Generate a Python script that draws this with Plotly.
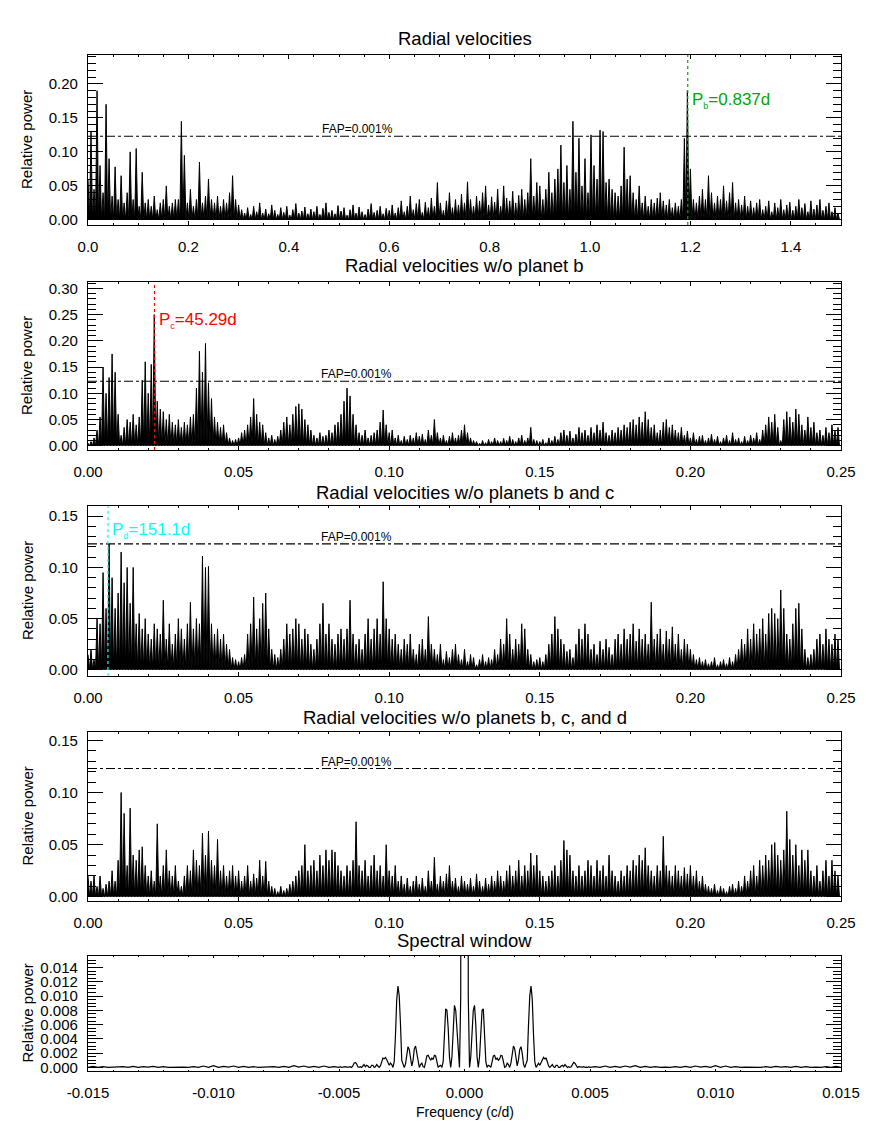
import numpy as np
import plotly.graph_objects as go

# periodogram peak heights, in units of 0.001 relative power, on a uniform frequency grid
rv_all = [60, 130, 45, 190, 80, 40, 170, 90, 35, 78,
          30, 65, 25, 40, 100, 30, 105, 20, 70, 25,
          30, 20, 35, 15, 25, 30, 50, 20, 25, 30,
          30, 145, 95, 25, 45, 20, 30, 85, 25, 35,
          60, 30, 25, 35, 20, 30, 25, 40, 65, 30,
          22, 15, 10, 18, 8, 20, 12, 25, 10, 16, 9, 22, 14, 8, 18, 11, 20, 7, 15, 24, 10, 13, 19, 9, 16,
          12, 20, 8, 17, 25, 11, 14, 9, 21, 13, 18, 7, 15, 22, 10, 19, 12, 8, 16, 24, 11, 14, 20, 9, 17,
          14, 22, 10, 18, 28, 12, 20, 35, 15, 24, 30, 11, 26, 18, 32, 20, 55, 25, 14, 28, 40, 18, 30, 22, 38,
          25, 56, 30, 20, 35, 28, 40, 50, 22, 34, 26, 45, 20, 50, 32, 28, 42, 25, 36, 45, 30, 40, 90, 35, 55,
          50, 30, 45, 70, 40, 60, 75, 110, 55, 80, 45, 145, 70, 120, 50, 90, 40, 125, 80, 60, 132, 130, 55, 60, 45,
          40, 35, 50, 107, 60, 65, 40, 30, 50, 25, 35, 20, 30, 25, 32, 40, 28, 22, 30, 18, 25, 20, 30, 120, 190,
          75, 30, 25, 35, 45, 30, 65, 40, 25, 35, 30, 50, 28, 40, 55, 25, 30, 22, 35, 20, 28, 18, 25, 30, 15,
          20, 28, 12, 25, 18, 30, 15, 22, 26, 14, 20, 30, 18, 24, 12, 28, 16, 22, 30, 14, 20, 25, 12, 18, 10]

rv_nob = [5, 8, 15, 30, 55, 150, 100, 130, 175, 140, 60, 20, 35, 50, 45, 60, 40, 55, 125, 160, 100, 155, 250, 85, 70,
          65, 50, 60, 45, 40, 50, 35, 45, 40, 55, 60, 110, 180, 140, 195, 120, 90, 55, 45, 35, 40, 25, 15, 10, 12,
          15, 25, 30, 40, 55, 90, 60, 45, 40, 25, 15, 20, 12, 18, 30, 45, 55, 40, 60, 75, 80, 70, 50, 40, 30,
          20, 15, 25, 18, 20, 30, 25, 40, 45, 60, 85, 110, 95, 60, 40, 25, 20, 30, 15, 20, 25, 30, 45, 68, 40,
          25, 30, 15, 20, 10, 18, 12, 20, 15, 25, 18, 22, 12, 30, 20, 50, 25, 15, 20, 10, 18, 25, 15, 20, 30,
          40, 25, 15, 10, 8, 5, 10, 6, 12, 8, 15, 10, 8, 14, 10, 18, 12, 8, 15, 20, 10, 15, 35, 12, 10,
          8, 12, 6, 15, 10, 18, 12, 25, 30, 20, 28, 15, 22, 35, 25, 30, 20, 35, 25, 40, 30, 45, 25, 20, 30,
          25, 35, 30, 40, 35, 45, 50, 40, 55, 45, 65, 50, 35, 40, 25, 30, 45, 50, 35, 40, 30, 25, 35, 20, 28,
          15, 25, 12, 18, 20, 10, 15, 22, 12, 18, 8, 15, 20, 10, 25, 12, 15, 8, 18, 10, 20, 15, 25, 12, 30,
          40, 55, 45, 60, 35, 10, 50, 65, 55, 45, 70, 60, 40, 30, 55, 35, 45, 25, 30, 20, 35, 25, 40, 30, 35]

rv_nobc = [15, 20, 10, 50, 45, 95, 60, 123, 90, 60, 75, 115, 85, 100, 65, 100, 45, 55, 40, 50, 35, 30, 45, 40, 35,
           68, 30, 45, 25, 35, 50, 40, 30, 45, 66, 40, 50, 45, 111, 100, 101, 45, 35, 40, 30, 35, 25, 20, 12, 10,
           8, 12, 15, 35, 45, 71, 40, 50, 65, 75, 40, 20, 15, 12, 20, 30, 45, 35, 40, 50, 45, 30, 40, 35, 25,
           20, 30, 45, 65, 35, 45, 30, 25, 35, 40, 30, 40, 68, 35, 25, 30, 20, 35, 50, 30, 40, 50, 35, 86, 50,
           40, 30, 35, 25, 20, 30, 25, 35, 20, 15, 25, 30, 20, 52, 25, 20, 15, 25, 10, 18, 12, 20, 25, 15, 10,
           20, 8, 15, 12, 5, 10, 15, 8, 12, 10, 20, 15, 30, 25, 50, 35, 20, 30, 25, 45, 40, 20, 15, 8, 10,
           12, 8, 15, 25, 35, 52, 40, 30, 25, 18, 20, 12, 25, 40, 30, 45, 35, 20, 25, 15, 28, 20, 30, 22, 15,
           30, 35, 25, 40, 30, 35, 45, 28, 40, 30, 35, 25, 66, 30, 35, 40, 25, 38, 30, 42, 25, 35, 20, 30, 25,
           20, 15, 10, 12, 8, 10, 6, 8, 12, 5, 8, 10, 6, 12, 8, 15, 20, 30, 25, 40, 30, 45, 35, 40, 50,
           35, 55, 60, 55, 50, 78, 60, 35, 30, 45, 60, 65, 40, 20, 12, 15, 20, 30, 35, 25, 40, 30, 25, 35, 30]

rv_nobcd = [20, 15, 20, 10, 20, 8, 12, 15, 25, 15, 35, 100, 80, 30, 85, 40, 35, 45, 48, 30, 20, 25, 15, 70, 20,
            30, 45, 25, 20, 30, 15, 10, 20, 30, 25, 45, 35, 30, 61, 40, 63, 35, 30, 55, 25, 30, 20, 25, 30, 20,
            25, 15, 20, 30, 15, 22, 18, 35, 20, 34, 15, 10, 8, 5, 10, 6, 8, 12, 15, 20, 25, 30, 50, 25, 30,
            35, 25, 40, 30, 45, 35, 45, 43, 30, 25, 20, 30, 25, 35, 72, 30, 25, 35, 20, 30, 40, 25, 30, 20, 50,
            25, 20, 30, 15, 20, 12, 18, 10, 15, 20, 12, 18, 10, 25, 15, 38, 12, 20, 15, 22, 30, 15, 18, 10, 20,
            15, 12, 18, 10, 22, 15, 10, 18, 12, 20, 15, 25, 20, 15, 25, 30, 20, 25, 35, 20, 30, 25, 42, 30, 40,
            25, 20, 15, 20, 25, 30, 20, 35, 54, 45, 40, 25, 20, 30, 20, 25, 35, 30, 20, 35, 25, 30, 20, 40, 25,
            20, 15, 25, 20, 30, 25, 35, 30, 40, 35, 47, 30, 25, 20, 30, 25, 58, 30, 25, 20, 30, 25, 20, 28, 22,
            30, 20, 25, 15, 20, 12, 10, 8, 12, 6, 10, 8, 5, 10, 12, 8, 15, 10, 20, 15, 25, 30, 20, 35, 30,
            40, 35, 50, 52, 40, 35, 45, 82, 55, 40, 50, 30, 45, 35, 45, 25, 20, 30, 15, 25, 35, 20, 35, 25, 20]

# spectral window, positive-frequency half (symmetric), units of 1e-5
win_inner = [100000, 80000, 45000, 1000, 0, 150, 500, 800, 870, 600,
             150, 0, 150, 550, 800, 820, 450, 80, 0, 30,
             20, 0, 80, 160, 170, 110, 130, 100, 120, 170,
             160, 70, 0, 10, 60, 40, 0, 60, 200, 300,
             260, 100, 20, 110, 250, 290, 200, 50, 0, 50,
             100, 600, 1000, 1140, 950, 450, 80, 0, 40, 60,
             30, 70, 110, 140, 120, 130, 80, 20, 0, 20,
             40, 10, 0, 30, 30, 0, 0, 20, 30, 10,
             40, 20, 0, 10, 0, 10, 50, 70, 60, 20,
             0, 10, 5, 0, 5, 10, 0, 5, 0, 10, 0]
win_outer = [10, 0, 20, 0, 15, 0, 20, 5, 25, 0, 15, 0, 10, 0, 5, 0, 10, 0, 15, 0, 20, 5, 15, 0, 25,
             0, 20, 0, 10, 0, 5, 0, 5, 0, 10, 0, 15, 5, 10, 0, 15, 0, 10, 0, 5, 0, 10, 0, 15, 0]

periods = {'b': 0.837, 'c': 45.29, 'd': 151.1}
fap_level = 0.123

# the page body adds an 8 px margin, so the figure is drawn 8 px in from the corner
OFF = 8
W, H = 872 - OFF, 1127 - OFF
FONT = "Liberation Sans, Arial, Helvetica, sans-serif"
X0, X1 = 88, 841
panels = [(55, 225), (282, 450), (506, 676), (732, 901), (956, 1071)]
titles = ["Radial velocities", "Radial velocities w/o planet b",
          "Radial velocities w/o planets b and c",
          "Radial velocities w/o planets b, c, and d", "Spectral window"]
yranges = [[-0.0075, 0.2425], [-0.008, 0.312], [-0.006, 0.16], [-0.004, 0.158], [-0.0005, 0.0156]]
xranges = [[0, 1.5], [0, 0.25], [0, 0.25], [0, 0.25], [-0.015, 0.015]]


def xp(px):
    return (px - OFF) / W


def yp(py):
    return 1 - (py - OFF) / H


def spikes(peaks, fmax):
    p = np.asarray(peaks) / 1000.0
    step = fmax / len(p)
    f = np.arange(len(p)) * step
    x = np.empty(2 * len(p))
    y = np.zeros(2 * len(p))
    x[0::2] = f
    x[1::2] = f + step / 2
    y[0::2] = p
    return x, y


fig = go.Figure()

series = [(rv_all, 1.5), (rv_nob, 0.25), (rv_nobc, 0.25), (rv_nobcd, 0.25)]
for k, (vals, fmax) in enumerate(series):
    x, y = spikes(vals, fmax)
    fig.add_trace(go.Scatter(x=x, y=y, mode='lines', line=dict(color='black', width=1),
                             fill='tozeroy', fillcolor='black',
                             xaxis=f'x{k + 1}', yaxis=f'y{k + 1}', showlegend=False, hoverinfo='skip'))
    # FAP line
    fig.add_trace(go.Scatter(x=xranges[k], y=[fap_level, fap_level], mode='lines',
                             line=dict(color='black', width=1.2, dash='dashdot'),
                             xaxis=f'x{k + 1}', yaxis=f'y{k + 1}', showlegend=False, hoverinfo='skip'))
    fig.add_annotation(x=0.536 if k == 0 else 0.0891, y=fap_level, xref=f'x{k + 1}', yref=f'y{k + 1}',
                       text="FAP=0.001%", showarrow=False, xanchor='center', yanchor='bottom', yshift=-2,
                       font=dict(family=FONT, size=12, color='black'))

# spectral window (mirror of the positive half)
half = np.array(win_inner + win_outer) / 1e5
fpos = np.concatenate([np.arange(len(win_inner)) * 0.00005,
                       0.0052 + np.arange(len(win_outer)) * 0.0002])
wx = np.concatenate([-fpos[::-1], fpos[1:]])
wy = np.concatenate([half[::-1], half[1:]])
fig.add_trace(go.Scatter(x=wx, y=wy, mode='lines', line=dict(color='black', width=1.2),
                         xaxis='x5', yaxis='y5', showlegend=False, hoverinfo='skip'))

# planet markers
marks = [('b', 1, '#00A800', 0.175), ('c', 2, '#FF0000', 0.239), ('d', 3, '#00FFFF', 0.136)]
for name, k, col, ylab in marks:
    f = 1.0 / periods[name]
    fig.add_trace(go.Scatter(x=[f, f], y=yranges[k - 1], mode='lines',
                             line=dict(color=col, width=1.2, dash='dot'),
                             xaxis=f'x{k}', yaxis=f'y{k}', showlegend=False, hoverinfo='skip'))
    fig.add_annotation(x=f, y=ylab, xref=f'x{k}', yref=f'y{k}', xanchor='left', xshift=2,
                       text=f"P<sub><span style='font-size:9px'>{name}</span></sub>={periods[name]}d",
                       showarrow=False, font=dict(family=FONT, size=17, color=col))

layout = dict(width=W, height=H, margin=dict(l=0, r=0, t=0, b=0),
              paper_bgcolor='white', plot_bgcolor='white', showlegend=False)

xticks = [(0.2, 0.05, '.1f', 0, 1.5), (0.05, 0.01, '.2f', 0, 0.25), (0.05, 0.01, '.2f', 0, 0.25),
          (0.05, 0.01, '.2f', 0, 0.25), (0.005, 0.001, '.3f', -0.015, 0.015)]
yticks = [(0.05, 0.01, '.2f', 0.20), (0.05, 0.01, '.2f', 0.30), (0.05, 0.01, '.2f', 0.15),
          (0.05, 0.01, '.2f', 0.15), (0.002, 0.0005, '.3f', 0.014)]

for k in range(5):
    top, bot = panels[k]
    ph = bot - top
    xd, xm, xf, xa, xb = xticks[k]
    yd, ym, yf, ytop = yticks[k]
    xv = np.round(np.arange(xa, xb + xd / 2, xd), 6)
    yv = np.round(np.arange(0, ytop + yd / 2, yd), 6)
    ax = '' if k == 0 else str(k + 1)
    layout[f'xaxis{ax}'] = dict(
        domain=[xp(X0), xp(X1)], anchor=f'y{ax}', range=xranges[k], automargin=False,
        tickmode='array', tickvals=xv, ticktext=[format(v, xf) for v in xv],
        ticks='inside', ticklen=max(2, 0.02 * ph), tickwidth=1, tickcolor='black',
        minor=dict(dtick=xm, tick0=0, ticks='inside', ticklen=max(1, 0.01 * ph), tickcolor='black'),
        showline=True, linecolor='black', linewidth=1.3, mirror='ticks',
        showgrid=False, zeroline=False, ticklabelstandoff=8,
        tickfont=dict(family=FONT, size=15, color='black'))
    layout[f'yaxis{ax}'] = dict(
        domain=[yp(bot), yp(top)], anchor=f'x{ax}', range=yranges[k], automargin=False,
        tickmode='array', tickvals=yv, ticktext=[format(v, yf) for v in yv],
        ticks='inside', ticklen=15, tickwidth=1, tickcolor='black',
        minor=dict(dtick=ym, tick0=0, ticks='inside', ticklen=7.5, tickcolor='black'),
        showline=True, linecolor='black', linewidth=1.3, mirror='ticks',
        showgrid=False, zeroline=False, ticklabelstandoff=6,
        tickfont=dict(family=FONT, size=15, color='black'))

fig.update_layout(**layout)

title_y = [38, 265, 492, 717, 940]
for k in range(5):
    fig.add_annotation(x=xp((X0 + X1) / 2), y=yp(title_y[k]), xref='paper', yref='paper',
                       text=titles[k], showarrow=False, xanchor='center', yanchor='middle',
                       font=dict(family=FONT, size=18.5, color='black'))
    top, bot = panels[k]
    fig.add_annotation(x=xp(27), y=yp((top + bot) / 2), xref='paper', yref='paper',
                       text="Relative power", showarrow=False, textangle=-90,
                       xanchor='center', yanchor='middle',
                       font=dict(family=FONT, size=15, color='black'))

fig.add_annotation(x=xp((X0 + X1) / 2), y=yp(1112), xref='paper', yref='paper',
                   text="Frequency (c/d)", showarrow=False, xanchor='center', yanchor='middle',
                   font=dict(family=FONT, size=14, color='black'))

fig.write_html("out.html")
